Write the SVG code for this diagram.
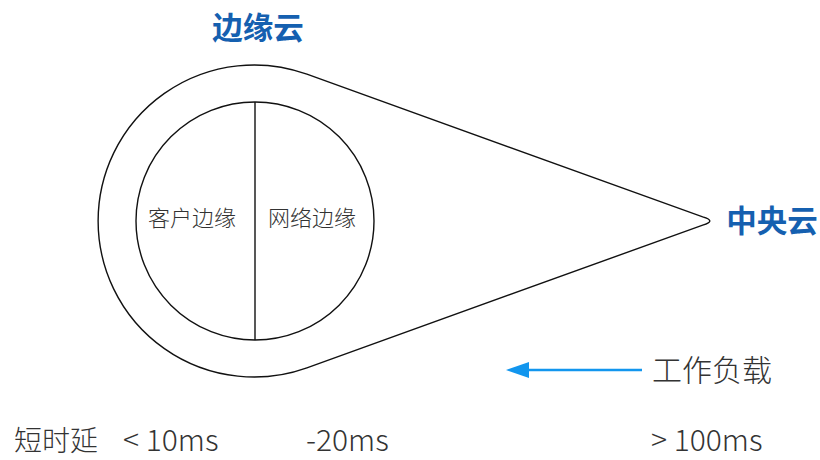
<svg xmlns="http://www.w3.org/2000/svg" width="820" height="460" viewBox="0 0 820 460">
<defs>
<style>
.shape{fill:none;stroke:#111;stroke-width:1.4}
.title{font-family:"Noto Sans CJK SC","Noto Sans",sans-serif;font-weight:700;font-size:30.5px;fill:#1560b0}
.lbl{font-family:"Noto Sans CJK SC","Noto Sans",sans-serif;font-weight:300;fill:#333}
.in{font-size:22px}
.big{font-size:30px}
.cjk{font-size:28px}
</style>
</defs>
<rect width="820" height="460" fill="#fff"/>
<g id="edge-cloud">
<path class="shape" d="M306.9 74.2 L702.7 216.9 Q717 221 702.7 225.1 L306.9 367.8 A156 156 0 1 1 306.9 74.2 Z"/>
<text class="title" x="258" y="39" text-anchor="middle">边缘云</text>
</g>
<g id="inner-edge">
<circle class="shape" cx="255" cy="221" r="119"/>
<line class="shape" x1="255" y1="102" x2="255" y2="340"/>
</g>
<g id="client-edge">
<text class="lbl in" x="192" y="226" text-anchor="middle">客户边缘</text>
</g>
<g id="network-edge">
<text class="lbl in" x="312" y="226" text-anchor="middle">网络边缘</text>
</g>
<g id="central-cloud">
<text class="title" x="772" y="232" text-anchor="middle">中央云</text>
</g>
<g id="connectors">
<line x1="642" y1="370" x2="524" y2="370" stroke="#1296ee" stroke-width="2.5"/>
<polygon points="506,370 529,362 529,378" fill="#1296ee"/>
</g>
<g id="workload">
<text class="lbl big" x="652" y="381">工作负载</text>
</g>
<g id="latency">
<text class="lbl cjk" x="14" y="451">短时延</text>
<text class="lbl big" x="123" y="451">&lt; 10ms</text>
<text class="lbl big" x="306" y="451">-20ms</text>
<text class="lbl big" x="651" y="451">&gt; 100ms</text>
</g>
</svg>
